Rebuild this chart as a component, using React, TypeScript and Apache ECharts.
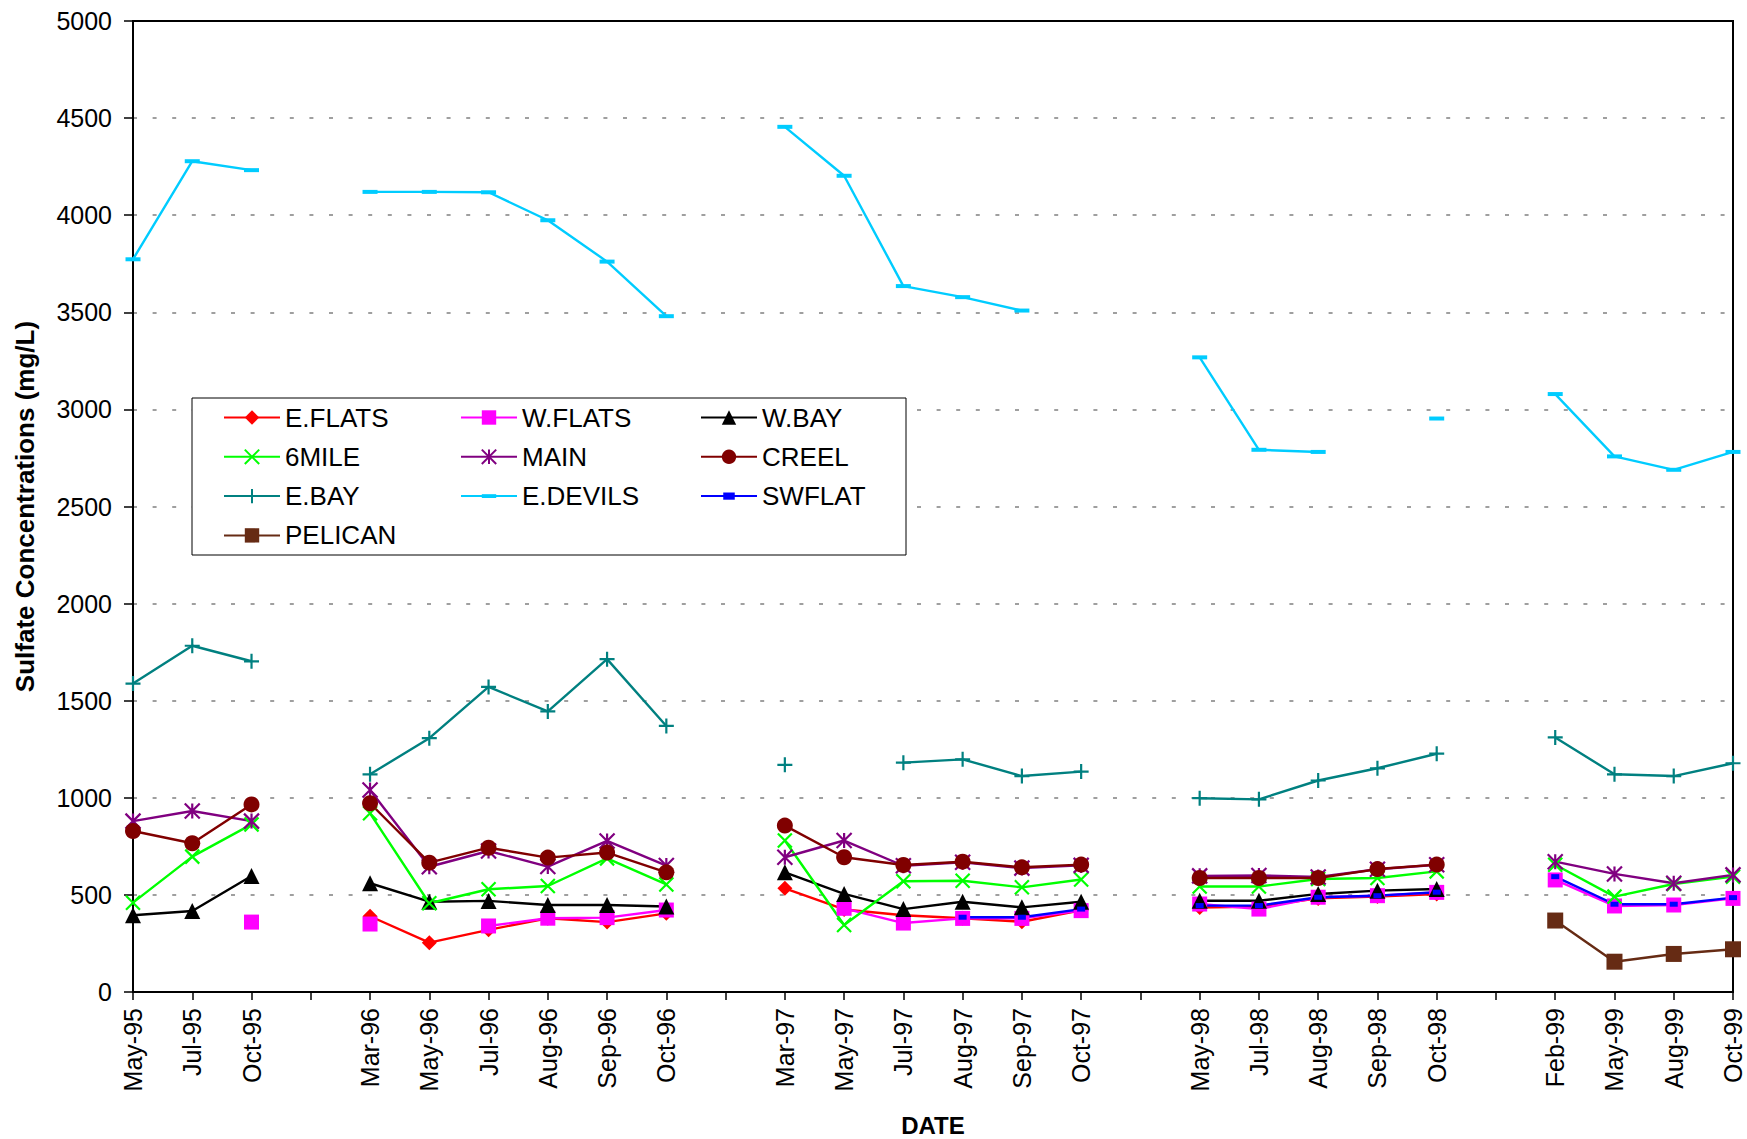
import React, { useEffect, useRef } from 'react';
import * as echarts from 'echarts';

// Sampling dates; blank entries separate the yearly sampling seasons.
const categories = [
  'May-95', 'Jul-95', 'Oct-95', ' ',
  'Mar-96', 'May-96', 'Jul-96', 'Aug-96', 'Sep-96', 'Oct-96', '  ',
  'Mar-97', 'May-97', 'Jul-97', 'Aug-97', 'Sep-97', 'Oct-97', '   ',
  'May-98', 'Jul-98', 'Aug-98', 'Sep-98', 'Oct-98', '    ',
  'Feb-99', 'May-99', 'Aug-99', 'Oct-99',
];

const yTicks = { min: 0, max: 5000, interval: 500 };

// Sulfate concentrations (mg/L) per station
const eFlats = [null, null, null, null, 390, 254, 320, 380, 360, 405, null, 534, 425, 395, 380, 362, 420, null, 435, 440, 482, 492, 505, null, null, null, null, null];
const wFlats = [null, null, 360, null, 350, null, 340, 380, 383, 422, null, null, 431, 355, 379, 379, 419, null, 453, 427, 488, 496, 513, null, 577, 443, 448, 482];
const wBay = [395, 417, 597, null, 560, 465, 469, 448, 448, 440, null, 616, 505, 427, 465, 436, 465, null, 470, 470, 505, 522, 530, null, null, null, null, null];
const sixMile = [460, 697, 863, null, 920, 457, 529, 546, 688, 554, null, 780, 345, 570, 573, 539, 579, null, 543, 543, 582, 587, 621, null, 655, 491, 556, 594];
const main = [880, 932, 880, null, 1040, 645, 726, 646, 778, 651, null, 694, 780, 650, 668, 638, 652, null, 598, 600, 592, 632, 655, null, 671, 608, 560, 603];
const creel = [829, 766, 966, null, 972, 666, 743, 692, 718, 616, null, 857, 694, 654, 671, 642, 656, null, 587, 587, 587, 633, 656, null, null, null, null, null];
const eBay = [1588, 1783, 1703, null, 1121, 1307, 1571, 1445, 1714, 1370, null, 1170, null, 1181, 1198, 1112, 1135, null, 998, 992, 1089, 1152, 1227, null, 1311, 1121, 1112, 1178];
const eDevils = [3773, 4278, 4232, null, 4120, 4120, 4118, 3974, 3761, 3480, null, 4455, 4203, 3635, 3578, 3509, null, null, 3268, 2792, 2781, null, 2953, null, 3079, 2758, 2689, 2781];
const swFlat = [null, null, null, null, null, null, null, null, null, null, null, null, null, null, 385, 385, 427, null, 445, 445, 488, 496, 514, null, 594, 452, 452, 486];
const pelican = [null, null, null, null, null, null, null, null, null, null, null, null, null, null, null, null, null, null, null, null, null, null, null, null, 368, 156, 196, 220];

const FONT = '"Liberation Sans", Arial, Helvetica, sans-serif';

// Marker shapes drawn as paths (stroked ones: x, asterisk, plus)
const SYM_X = 'path://M0,0L10,10M10,0L0,10';
const SYM_STAR = 'path://M0,0L10,10M10,0L0,10M5,0L5,10';
const SYM_PLUS = 'path://M5,0L5,10M0,5L10,5';
const SYM_DASH = 'path://M0,0M15,15M0,5.5h15v4h-15z';
const SYM_SMALL = 'path://M0,0M10,10M1,2.5h8v5h-8z';

export default function App() {
  const ref = useRef<HTMLDivElement>(null);

  useEffect(() => {
    const chart = echarts.init(ref.current!, null, { renderer: 'svg' });

    const line = (
      name: string,
      data: (number | null)[],
      color: string,
      symbol: string,
      symbolSize: number,
      stroked = false
    ) => ({
      name,
      type: 'line',
      data,
      symbol,
      symbolSize,
      showAllSymbol: true,
      connectNulls: false,
      lineStyle: { color, width: 2.4 },
      itemStyle: stroked
        ? { color, borderColor: color, borderWidth: 2.2 }
        : { color, borderWidth: 0 },
      emphasis: { disabled: true },
    });

    const legendBase = {
      orient: 'vertical',
      itemWidth: 56,
      itemHeight: 18,
      itemGap: 12.3,
      padding: 0,
      selectedMode: false,
      z: 10,
      textStyle: { fontFamily: FONT, fontSize: 26, color: '#000', lineHeight: 27 },
    };

    chart.setOption({
      animation: false,
      backgroundColor: '#fff',
      grid: {
        left: 133,
        right: 14,
        top: 21,
        bottom: 147,
        outerBoundsMode: 'none',
        containLabel: false,
        show: true,
        borderColor: '#000',
        borderWidth: 2,
        backgroundColor: 'transparent',
      },
      xAxis: {
        type: 'category',
        data: categories,
        boundaryGap: false,
        name: 'DATE',
        nameLocation: 'middle',
        nameGap: 121,
        nameTextStyle: { fontFamily: FONT, fontSize: 24, fontWeight: 'bold', color: '#000' },
        axisLine: { lineStyle: { color: '#000', width: 2 } },
        axisTick: { show: true, interval: 0, length: 8, lineStyle: { color: '#000', width: 1.5 } },
        axisLabel: {
          interval: 0,
          rotate: 90,
          margin: 16,
          fontFamily: FONT,
          fontSize: 25,
          color: '#000',
        },
        splitLine: { show: false },
      },
      yAxis: {
        type: 'value',
        min: yTicks.min,
        max: yTicks.max,
        interval: yTicks.interval,
        name: 'Sulfate Concentrations (mg/L)',
        nameLocation: 'middle',
        nameGap: 95,
        nameTextStyle: { fontFamily: FONT, fontSize: 26, fontWeight: 'bold', color: '#000' },
        axisLine: { show: true, lineStyle: { color: '#000', width: 2 } },
        axisTick: { show: true, length: 9, lineStyle: { color: '#000', width: 1.5 } },
        axisLabel: {
          margin: 21,
          fontFamily: FONT,
          fontSize: 25,
          color: '#000',
          formatter: (v: number) => String(v),
        },
        splitLine: {
          show: true,
          showMinLine: false,
          showMaxLine: false,
          lineStyle: { color: '#808080', width: 1.5, type: [4, 15.6] },
        },
      },
      legend: [
        { ...legendBase, left: 223, top: 404, data: ['E.FLATS', '6MILE', 'E.BAY', 'PELICAN'] },
        { ...legendBase, left: 460, top: 404, data: ['W.FLATS', 'MAIN', 'E.DEVILS'] },
        { ...legendBase, left: 700, top: 404, data: ['W.BAY', 'CREEL', 'SWFLAT'] },
      ],
      graphic: {
        elements: [
          {
            type: 'rect',
            z: 5,
            shape: { x: 192, y: 398, width: 714, height: 157 },
            style: { fill: '#fff', stroke: '#000', lineWidth: 1 },
            silent: true,
          },
        ],
      },
      series: [
        line('E.FLATS', eFlats, '#FF0000', 'diamond', 15),
        line('W.FLATS', wFlats, '#FF00FF', 'rect', 15),
        line('W.BAY', wBay, '#000000', 'triangle', 16),
        line('6MILE', sixMile, '#00FF00', SYM_X, 14, true),
        line('MAIN', main, '#800080', SYM_STAR, 15, true),
        line('CREEL', creel, '#800000', 'circle', 16),
        line('E.BAY', eBay, '#008080', SYM_PLUS, 15, true),
        line('E.DEVILS', eDevils, '#00CCFF', SYM_DASH, 15),
        line('SWFLAT', swFlat, '#0000FF', SYM_SMALL, 10),
        line('PELICAN', pelican, '#662B14', 'rect', 16),
      ],
    });

    return () => chart.dispose();
  }, []);

  return (
    <div
      ref={ref}
      style={{ position: 'absolute', left: 0, top: 0, width: 1747, height: 1139 }}
    />
  );
}
